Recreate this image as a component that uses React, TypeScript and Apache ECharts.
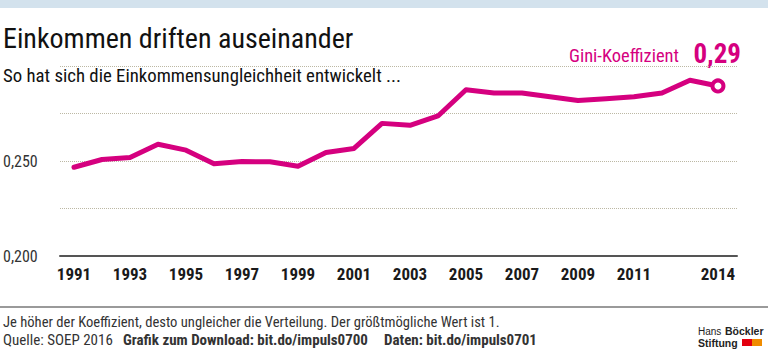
import React, { useEffect, useRef } from 'react';
import * as echarts from 'echarts';

const years = [1991, 1992, 1993, 1994, 1995, 1996, 1997, 1998, 1999, 2000, 2001, 2002, 2003, 2004, 2005, 2006, 2007, 2008, 2009, 2010, 2011, 2012, 2013, 2014];
const gini = [0.2467, 0.2508, 0.2518, 0.2588, 0.2557, 0.2485, 0.2497, 0.2496, 0.2472, 0.2545, 0.2566, 0.2698, 0.2688, 0.2737, 0.2875, 0.2858, 0.2858, 0.2838, 0.2818, 0.2828, 0.2838, 0.2858, 0.2925, 0.2895];
const xTickYears = [1991, 1993, 1995, 1997, 1999, 2001, 2003, 2005, 2007, 2009, 2011, 2014];
const yLabelValues = [0.2, 0.25];

const MAGENTA = '#d5007f';
const FONT = "'Liberation Sans Narrow', 'Roboto Condensed', 'DejaVu Sans Condensed', Roboto, sans-serif";
const LOGO_FONT = "Arial, 'Liberation Sans', sans-serif";

export default function App() {
  const ref = useRef<HTMLDivElement>(null);
  useEffect(() => {
    if (!ref.current) return;
    const chart = echarts.init(ref.current, null, { renderer: 'svg' });
    const lineData = years.map((y, i) => [y, gini[i]]);
    const last = lineData[lineData.length - 1];
    chart.setOption({
      animation: false,
      backgroundColor: '#fff',
      textStyle: { fontFamily: FONT },
      grid: { left: 60, right: 31, top: 66, bottom: 96, containLabel: false },
      xAxis: {
        type: 'value',
        min: 1990.5,
        max: 2014.68,
        axisLine: { show: true, onZero: false, lineStyle: { color: '#555', width: 2 } },
        axisTick: { show: false },
        splitLine: { show: false },
        axisLabel: {
          customValues: xTickYears,
          formatter: (v: number) => String(v),
          color: '#1a1a1a',
          fontWeight: 'bold',
          fontSize: 17,
          margin: 9,
          fontFamily: FONT,
        },
      },
      yAxis: {
        type: 'value',
        min: 0.2,
        max: 0.3,
        interval: 0.025,
        axisLine: { show: false },
        axisTick: { show: false },
        splitLine: { show: true, lineStyle: { color: '#bcb8a4', type: 'dotted', width: 1 } },
        axisLabel: {
          align: 'left',
          margin: 57,
          color: '#333',
          fontSize: 16,
          fontFamily: FONT,
          formatter: (v: number) => {
            const hit = yLabelValues.find((t) => Math.abs(t - v) < 1e-6);
            return hit === undefined ? '' : hit.toFixed(3).replace('.', ',');
          },
        },
      },
      series: [
        {
          type: 'line',
          data: lineData,
          symbol: 'none',
          lineStyle: { color: MAGENTA, width: 5, cap: 'round', join: 'round' },
          z: 3,
        },
        {
          type: 'scatter',
          data: [last],
          symbol: 'circle',
          symbolSize: 11,
          itemStyle: { color: '#fff', borderColor: MAGENTA, borderWidth: 4, opacity: 1 },
          z: 4,
        },
      ],
      graphic: [
        { type: 'rect', left: 0, top: 0, shape: { width: 768, height: 8 }, style: { fill: '#d3e2ed' } },
        { type: 'text', x: 3, y: 38, style: { text: 'Einkommen driften auseinander', fontSize: 28, fontFamily: FONT, fill: '#111', textVerticalAlign: 'middle' } },
        { type: 'text', x: 3, y: 76, style: { text: 'So hat sich die Einkommensungleichheit entwickelt ...', fontSize: 18.8, fontFamily: FONT, fill: '#111', textVerticalAlign: 'middle' } },
        { type: 'text', x: 679, y: 56, style: { text: 'Gini-Koeffizient', fontSize: 18.5, fontFamily: FONT, fill: MAGENTA, textAlign: 'right', textVerticalAlign: 'middle' } },
        { type: 'text', x: 741, y: 54, style: { text: '0,29', fontSize: 27, fontWeight: 'bold', fontFamily: FONT, fill: MAGENTA, textAlign: 'right', textVerticalAlign: 'middle' } },
        { type: 'rect', left: 0, top: 306, shape: { width: 768, height: 2 }, style: { fill: '#9a9a9a' } },
        { type: 'text', x: 3, y: 322, style: { text: 'Je höher der Koeffizient, desto ungleicher die Verteilung. Der größtmögliche Wert ist 1.', fontSize: 14.6, fontFamily: FONT, fill: '#333', textVerticalAlign: 'middle' } },
        { type: 'text', x: 3, y: 340, style: { text: 'Quelle: SOEP 2016', fontSize: 15, fontFamily: FONT, fill: '#333', textVerticalAlign: 'middle' } },
        { type: 'text', x: 123, y: 340, style: { text: 'Grafik zum Download: bit.do/impuls0700', fontSize: 15, fontWeight: 'bold', fontFamily: FONT, fill: '#333', textVerticalAlign: 'middle' } },
        { type: 'text', x: 384, y: 340, style: { text: 'Daten: bit.do/impuls0701', fontSize: 15, fontWeight: 'bold', fontFamily: FONT, fill: '#333', textVerticalAlign: 'middle' } },
        { type: 'text', x: 698, y: 331, style: { text: 'Hans', fontSize: 10, fontFamily: LOGO_FONT, fill: '#222', textVerticalAlign: 'middle' } },
        { type: 'text', x: 725, y: 331, style: { text: 'Böckler', fontSize: 10.5, fontWeight: 'bold', fontFamily: LOGO_FONT, fill: '#222', textVerticalAlign: 'middle' } },
        { type: 'text', x: 698, y: 343, style: { text: 'Stiftung', fontSize: 10.5, fontWeight: 'bold', fontFamily: LOGO_FONT, fill: '#222', textVerticalAlign: 'middle' } },
        { type: 'rect', left: 742, top: 339, shape: { width: 10, height: 7 }, style: { fill: '#e3000f' } },
        { type: 'rect', left: 752, top: 339, shape: { width: 10, height: 7 }, style: { fill: '#f08c00' } },
      ],
    });
    return () => chart.dispose();
  }, []);
  return <div ref={ref} style={{ position: 'fixed', left: 0, top: 0, width: 768, height: 352 }} />;
}
